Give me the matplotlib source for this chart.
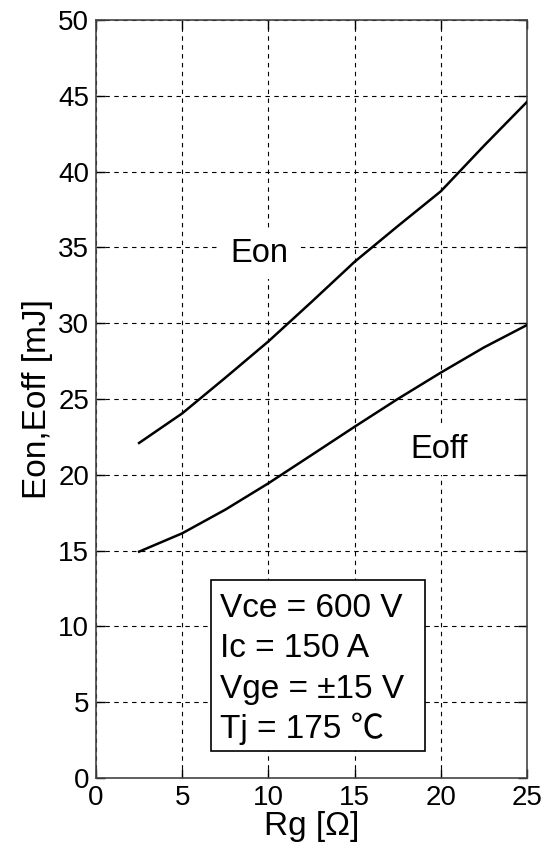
"""Switching energy vs gate resistance chart"""
import matplotlib
matplotlib.use('Agg')
import matplotlib.pyplot as plt
from matplotlib.patches import Rectangle

plt.rcParams.update({
    'font.family': ['Liberation Sans', 'Noto Sans CJK JP', 'DejaVu Sans'],
    'font.size': 20,
    'axes.edgecolor': '#444444',
    'axes.linewidth': 1.2,
    'xtick.direction': 'in',
    'ytick.direction': 'in',
    'xtick.top': True,
    'ytick.right': True,
    'xtick.major.size': 6.5,
    'ytick.major.size': 6.5,
    'xtick.major.pad': 5,
    'ytick.major.pad': 5,
    'figure.facecolor': '#ffffff',
})

# data
rg = [2.5, 5, 7.5, 10, 12.5, 15, 17.5, 20, 22.5, 25]
eon = [22.1, 24.05, 26.4, 28.8, 31.4, 34.05, 36.4, 38.7, 41.7, 44.6]
eoff = [14.93, 16.14, 17.7, 19.44, 21.3, 23.17, 25.0, 26.74, 28.4, 29.88]

x_ticks = [0, 5, 10, 15, 20, 25]
y_ticks = [0, 5, 10, 15, 20, 25, 30, 35, 40, 45, 50]
conditions = ['Vce = 600 V', 'Ic = 150 A', 'Vge = \u00b115 V', 'Tj = 175 \u2103']

fig = plt.figure(figsize=(5.53, 8.51), dpi=100)
ax = fig.add_axes([0.1736, 0.0858, 0.7794, 0.8907])

ax.plot(rg, eon, color='black', linewidth=1.8, zorder=3)
ax.plot(rg, eoff, color='black', linewidth=1.8, zorder=3)

ax.set_xlim(0, 25)
ax.set_ylim(0, 50)
ax.set_xticks(x_ticks)
ax.set_yticks(y_ticks)
ax.tick_params(colors='black', width=1.0)
ax.grid(True, color='black', linestyle=(0, (4, 4)), linewidth=0.8, zorder=1)
ax.set_axisbelow(True)

ax.set_xlabel('Rg [\u03a9]', fontsize=24, labelpad=0)
ax.set_ylabel('Eon,Eoff [mJ]', fontsize=24, labelpad=4)

# curve labels with white background to cut the grid
white = dict(boxstyle='square,pad=0.3', fc='white', ec='none')
ax.text(9.45, 34.04, 'Eon', fontsize=23.5, ha='center', va='baseline', bbox=white, zorder=2)
ax.text(19.9, 21.08, 'Eoff', fontsize=23.5, ha='center', va='baseline', bbox=white, zorder=2)

# conditions box
ax.add_patch(Rectangle((0.267, 0.0356), 0.496, 0.2256, transform=ax.transAxes,
                       facecolor='white', edgecolor='black', linewidth=1.2, zorder=2))
for i, line in enumerate(conditions):
    ax.text(0.2877, 0.2128 - i * 0.0534, line, transform=ax.transAxes,
            fontsize=24, ha='left', va='baseline', zorder=4)

fig.savefig('out.png', dpi=100)
